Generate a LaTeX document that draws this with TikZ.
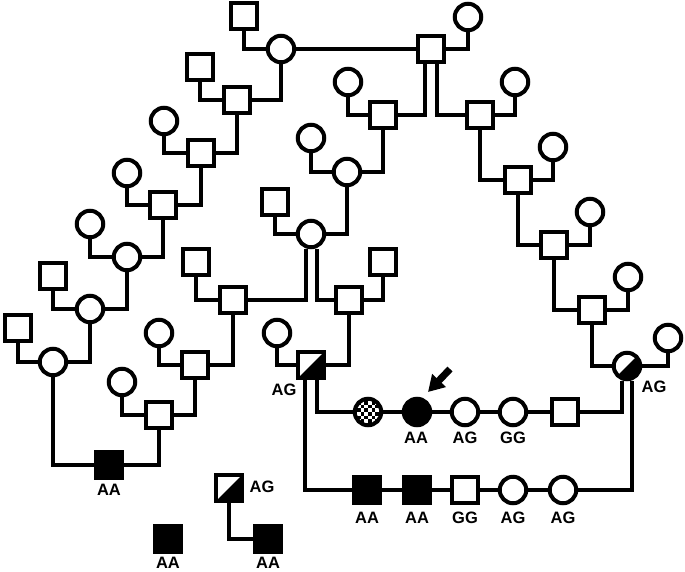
\documentclass[tikz,border=0pt]{standalone}
\usepackage{fontspec}
\setmainfont{Liberation Sans}
\usetikzlibrary{arrows.meta}
\tikzset{
	ind/.style={draw,line width=4pt,minimum size=26.5pt,inner sep=0pt,fill=white},
	male/.style={ind,rectangle},
	female/.style={ind,circle},
	aff/.style={fill=black},
	carrier/.style={path picture={\fill[black] (path picture bounding box.south west) -- (path picture bounding box.south east) -- (path picture bounding box.north east) -- cycle;}},
	chk/.style={path picture={\foreach \i in {0,...,7}{\foreach \j in {0,...,7}{\ifodd\numexpr\i+\j\relax\fill[black] ([shift={(\i*3.6pt-14.4pt,\j*3.6pt-14.4pt)}]path picture bounding box.center) rectangle +(3.6pt,3.6pt);\fi}}}},
	line/.style={line width=4pt},
	lbl/.style={font=\fontsize{16.5}{18}\selectfont\bfseries,inner sep=0pt}
}
\begin{document}
\begin{tikzpicture}[x=1pt,y=-1pt]
		\useasboundingbox (0,0) rectangle (685,571);
		% individuals
		\foreach \n/\x/\y in {s0/431/49,s1/244/16,s2/200/67,s3/237/100,s4/201/153,s5/163/205,s6/53/276,s7/18/328,s8/159/415,s9/195/365,s10/233/300,s11/196/262,s12/275/202,s13/383/115,s14/480/115,s15/518/180,s16/554/245,s17/592/310,s18/565/412,s19/349/300,s20/383/262,s21/465/490}
			\node[male] (\n) at (\x,\y) {};
		\foreach \n/\x/\y in {c0/468/17,c1/281/49,c2/164/121,c3/127/173,c4/90/224,c5/127/257,c6/90/309,c7/53/362,c8/122/382,c9/159/333,c10/311/234,c11/347/172,c12/311/138,c13/348/82,c20/277/333,r1/515/82,r2/553/147,r3/590/212,r4/628/277,r5/668/338,g1/465/412,g2/513/412,g3/513/490,g4/563/490}
			\node[female] (\n) at (\x,\y) {};
		\foreach \n/\x/\y in {b1/109/465,b2/367/490,b3/417/490,b4/268/539,b5/168/539}
			\node[male,aff] (\n) at (\x,\y) {};
		\node[female,aff] (f1) at (417,412) {};
		\node[female,chk] (k1) at (368,412) {};
		\node[male,carrier] (h1) at (311,365) {};
		\node[male,carrier] (h3) at (229,488) {};
		\node[female,carrier] (h2) at (627,366) {};
		% lines
		\draw[line] (s1) |- (c1) -- (s0) -| (c0);
		\draw[line] (s2) |- (s3) -| (c1);
		\draw[line] (c2) |- (s4) -| (s3);
		\draw[line] (c3) |- (s5) -| (s4);
		\draw[line] (c4) |- (c5) -| (s5);
		\draw[line] (s6) |- (c6) -| (c5);
		\draw[line] (s7) |- (c7) -| (c6);
		\draw[line] (c7) |- (b1) -| (s8);
		\draw[line] (c8) |- (s8) -| (s9);
		\draw[line] (c9) |- (s9) -| (s10);
		\draw[line] (s11) |- (s10) -| ([xshift=-5.5pt]c10.south);
		\draw[line] ([xshift=5.5pt]c10.south) |- (s19) -| (s20);
		\draw[line] (s12) |- (c10) -| (c11);
		\draw[line] (c12) |- (c11) -| (s13);
		\draw[line] (c13) |- (s13) -| ([xshift=-6pt]s0.south);
		\draw[line] ([xshift=6pt]s0.south) |- (s14) -| (r1);
		\draw[line] (s14) |- (s15) -| (r2);
		\draw[line] (s15) |- (s16) -| (r3);
		\draw[line] (s16) |- (s17) -| (r4);
		\draw[line] (s17) |- (h2) -| (r5);
		\draw[line] (c20) |- (h1) -| (s19);
		\draw[line] ([xshift=6pt]h1.south) |- (k1) -- (f1) -- (g1) -- (g2) -- (s18) -| ([xshift=-5pt]h2.south);
		\draw[line] ([xshift=-6pt]h1.south) |- (b2) -- (b3) -- (s21) -- (g3) -- (g4) -| ([xshift=5pt]h2.south);
		\draw[line] (h3) |- (b4);
		% proband
		\coordinate (atail) at (450,369);
		\coordinate (ahead) at (428,392);
		\draw[line width=7pt,-{Triangle[length=16pt,width=18pt]}] (atail) -- (ahead);
		% genotypes
		\node[lbl] (t1) at (109,490) {AA};
		\node[lbl] (t2) at (284,390) {AG};
		\node[lbl] (t3) at (654,387) {AG};
		\node[lbl] (t4) at (416,438) {AA};
		\node[lbl] (t5) at (465,438) {AG};
		\node[lbl] (t6) at (513,438) {GG};
		\node[lbl] (t7) at (367,518) {AA};
		\node[lbl] (t8) at (417,518) {AA};
		\node[lbl] (t9) at (465,518) {GG};
		\node[lbl] (t10) at (513,518) {AG};
		\node[lbl] (t11) at (563,518) {AG};
		\node[lbl] (t12) at (262,487) {AG};
		\node[lbl] (t13) at (268,563) {AA};
		\node[lbl] (t14) at (168,563) {AA};
	\end{tikzpicture}
\end{document}
